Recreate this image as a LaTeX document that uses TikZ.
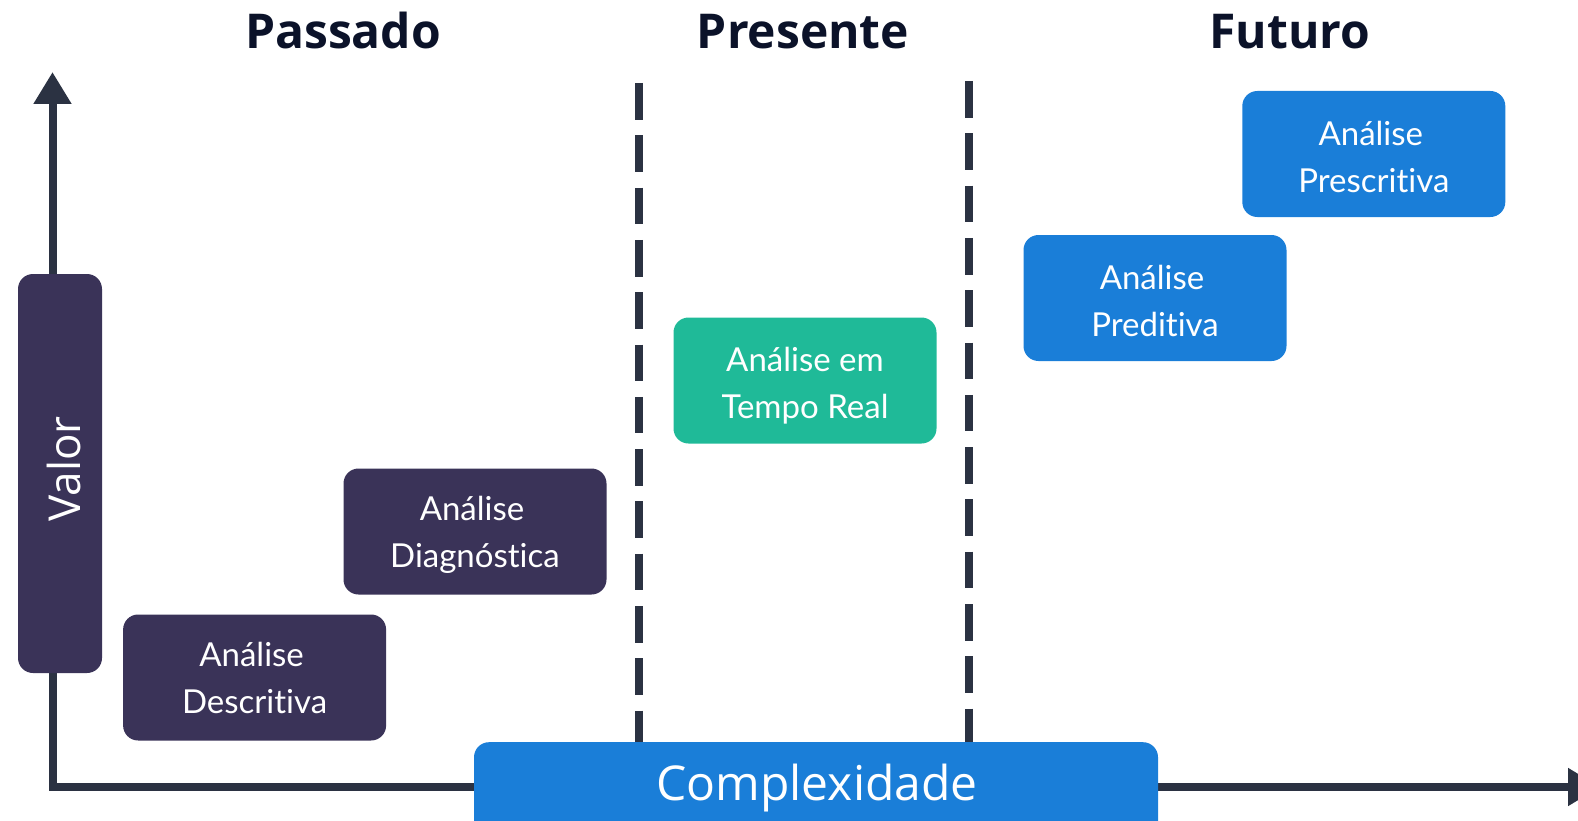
\documentclass[tikz,border=0pt]{standalone}
\usepackage{fontspec}
\newfontfamily\lato[Ligatures=NoCommon]{Lato}
\newfontfamily\opensans{Open Sans}
\usetikzlibrary{arrows.meta}
\definecolor{axiscol}{HTML}{2B3242}
\definecolor{titlecol}{HTML}{0B1229}
\definecolor{purplebox}{HTML}{3A3358}
\definecolor{tealbox}{HTML}{1FBA98}
\definecolor{bluebox}{HTML}{1A7ED8}
\newcommand{\tsp}{\hspace*{6pt}}
\tikzset{
  anbox/.style={rounded corners=15pt, minimum width=263pt, minimum height=126pt, inner sep=0pt},
  antext/.style={inner sep=0pt, align=center, text=white, font=\lato\fontsize{33}{47}\selectfont},
  titletext/.style={text=titlecol, font=\opensans\bfseries\fontsize{48}{52}\selectfont, anchor=base, inner sep=0pt},
  axisline/.style={draw=axiscol, line width=8pt},
  sepline/.style={draw=axiscol, line width=8pt, dash pattern=on 36.6pt off 15.7pt},
}
\begin{document}
\begin{tikzpicture}[x=1pt,y=-1pt]
\useasboundingbox (0,0) rectangle (1578,821);
% axes
\coordinate (origin) at (52.5,787);
\coordinate (ytip) at (52.5,72);
\coordinate (xtip) at (1600,787);
\draw[axisline, line join=miter, {Triangle[length=32pt,width=36pt]}-{Triangle[length=32pt,width=36pt]}] (ytip) -- (origin) -- (xtip);
% separators
\coordinate (s1a) at (639,83);
\coordinate (s1b) at (639,790);
\coordinate (s2a) at (968.8,81);
\coordinate (s2b) at (968.8,790);
\draw[sepline] (s1a) -- (s1b);
\draw[sepline] (s2a) -- (s2b);
% titles
\node[titletext] (tpass) at (343,48.5) {Passado};
\node[titletext] (tpres) at (803,48.5) {Presente};
\node[titletext] (tfut) at (1290,48.5) {Futuro};
% valor
\node[fill=purplebox, rounded corners=15pt, minimum width=84pt, minimum height=399pt, inner sep=0pt] (valbox) at (60,473.5) {};
\node[rotate=90, anchor=base, text=white, inner sep=0pt, font=\opensans\fontsize{44}{50}\selectfont] (valtxt) at (80,469) {Valor};
% boxes
\node[anbox, fill=purplebox] (desc) at (254.6,677.5) {};
\node[antext] (desct) at (desc.center) {Análise\tsp\\Descritiva};
\node[anbox, fill=purplebox] (diag) at (475,531.5) {};
\node[antext] (diagt) at ([yshift=-3pt]diag.center) {Análise\tsp\\Diagnóstica};
\node[anbox, fill=tealbox] (real) at (805,380.5) {};
\node[antext] (realt) at ([yshift=-5pt]real.center) {Análise em\\Tempo Real};
\node[anbox, fill=bluebox] (pred) at (1155,298) {};
\node[antext] (predt) at ([yshift=-3pt]pred.center) {Análise\tsp\\Preditiva};
\node[anbox, fill=bluebox] (presc) at (1373.8,154) {};
\node[antext] (presct) at ([yshift=-3pt]presc.center) {Análise\tsp\\Prescritiva};
% complexidade
\node[fill=bluebox, rounded corners=15pt, minimum width=684pt, minimum height=110pt, inner sep=0pt, anchor=north] (cbox) at (816,742) {};
\node[anchor=base, text=white, inner sep=0pt, font=\opensans\fontsize{48}{50}\selectfont] (ctxt) at (817,800) {Complexidade};
\end{tikzpicture}
\end{document}
